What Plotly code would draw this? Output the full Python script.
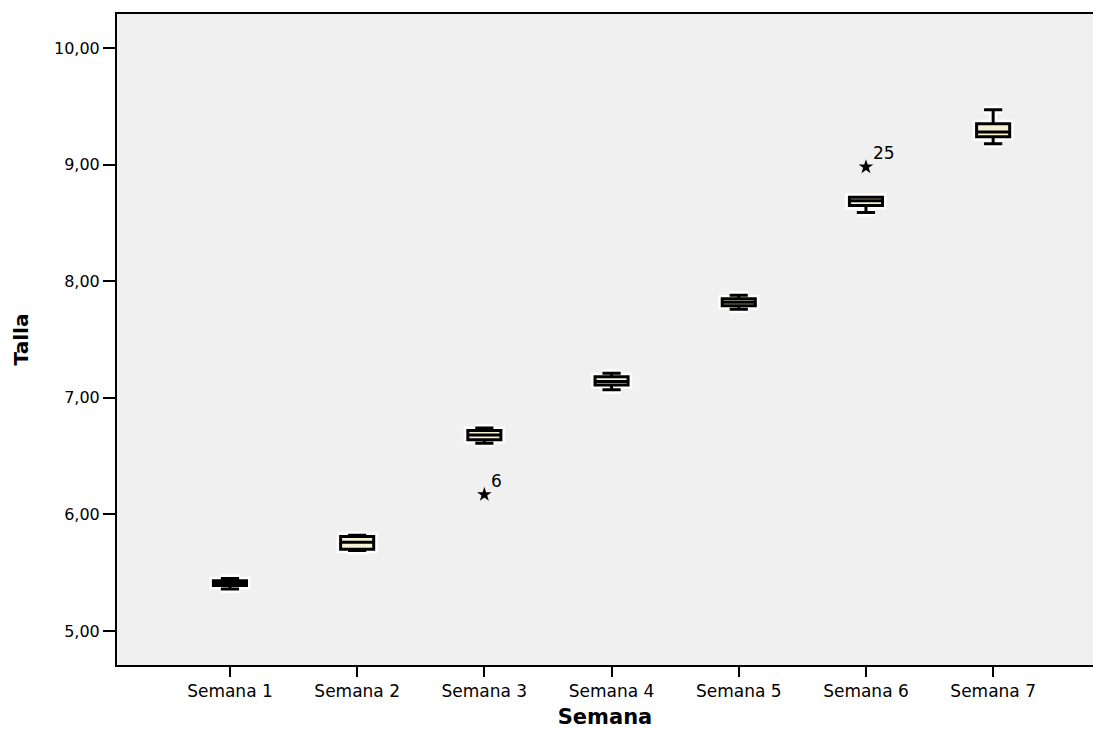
import plotly.graph_objects as go

# Weekly size (Talla) summaries for each week
semanas = ["Semana 1", "Semana 2", "Semana 3", "Semana 4", "Semana 5", "Semana 6", "Semana 7"]
bigote_inf = [5.36, 5.69, 6.61, 7.07, 7.76, 8.59, 9.18]
q1 = [5.39, 5.70, 6.64, 7.11, 7.79, 8.65, 9.24]
mediana = [5.41, 5.76, 6.68, 7.14, 7.82, 8.69, 9.28]
q3 = [5.43, 5.81, 6.72, 7.18, 7.85, 8.72, 9.35]
bigote_sup = [5.45, 5.82, 6.74, 7.21, 7.88, 8.72, 9.47]

# Extreme values flagged with their case number
extremo_semana = ["Semana 3", "Semana 6"]
extremo_valor = [6.17, 8.98]
extremo_caso = ["6", "25"]

y_ticks = [5, 6, 7, 8, 9, 10]
y_ticktext = ["5,00", "6,00", "7,00", "8,00", "9,00", "10,00"]

FONT = "DejaVu Sans"

fig = go.Figure()

# White halo underneath the boxes, then the black-outlined boxes on top
for color, lw, fill in [("white", 8, "white"), ("black", 3, "#F5F2D2")]:
    fig.add_trace(go.Box(
        x=semanas,
        q1=q1, median=mediana, q3=q3,
        lowerfence=bigote_inf, upperfence=bigote_sup,
        boxpoints=False,
        width=0.26,
        whiskerwidth=0.55,
        fillcolor=fill,
        line=dict(color=color, width=lw),
        hoverinfo="skip",
        showlegend=False,
    ))

fig.add_trace(go.Scatter(
    x=extremo_semana, y=extremo_valor,
    mode="markers",
    marker=dict(symbol="star", size=11, color="black",
                line=dict(color="black", width=0)),
    showlegend=False,
    hoverinfo="skip",
))

for s, v, c in zip(extremo_semana, extremo_valor, extremo_caso):
    fig.add_annotation(
        x=s, y=v, text=c, showarrow=False,
        xanchor="left", yanchor="bottom", xshift=5, yshift=2,
        font=dict(family=FONT, size=17, color="black"),
    )

fig.update_layout(
    width=1093, height=729,
    margin=dict(l=117, r=0, t=14, b=64),
    paper_bgcolor="white",
    plot_bgcolor="#F0F0F0",
    boxmode="overlay",
    font=dict(family=FONT, color="black"),
    xaxis=dict(
        categoryorder="array", categoryarray=semanas,
        range=[-0.888, 6.785],
        automargin=False,
        showline=True, linecolor="black", linewidth=2, mirror=True,
        ticks="outside", ticklen=10, tickwidth=2, tickcolor="black",
        tickfont=dict(family=FONT, size=17, color="black"),
        showgrid=False, zeroline=False,
        title=dict(text="<b>Semana</b>", font=dict(family=FONT, size=21, color="black"), standoff=16),
    ),
    yaxis=dict(
        range=[4.708, 10.292],
        automargin=False,
        tickvals=y_ticks, ticktext=y_ticktext,
        showline=True, linecolor="black", linewidth=2, mirror=False,
        ticks="outside", ticklen=12, tickwidth=2, tickcolor="black",
        tickfont=dict(family=FONT, size=16, color="black"),
        showgrid=False, zeroline=False,
        title=dict(text="<b>Talla</b>", font=dict(family=FONT, size=20, color="black"), standoff=20),
    ),
)

fig.write_html("out.html")
